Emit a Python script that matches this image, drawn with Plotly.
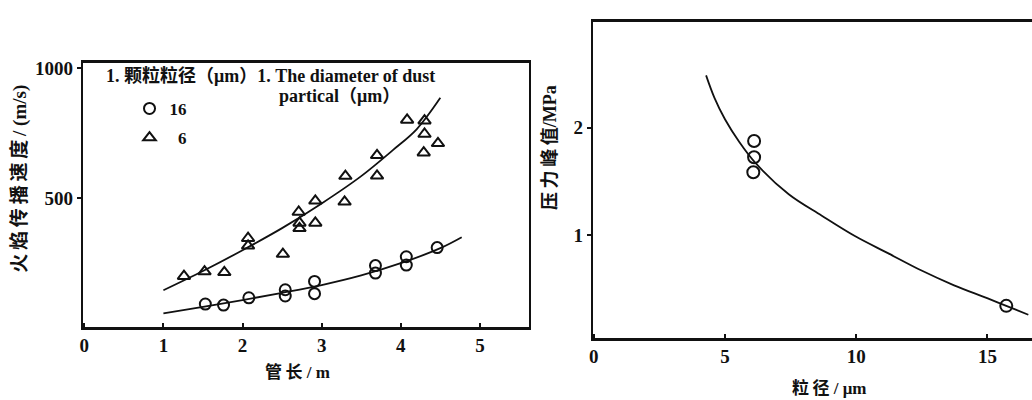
import plotly.graph_objects as go

# ---- left panel: flame propagation speed vs. tube length ----
tube_len_6 = [1.26, 1.52, 1.77, 2.07, 2.07, 2.51, 2.71, 2.72, 2.72, 2.92, 2.92,
              3.30, 3.29, 3.70, 3.70, 4.08, 4.30, 4.30, 4.29, 4.47]
speed_6 = [200, 218, 215, 346, 317, 285, 447, 405, 384, 490, 405,
           585, 486, 665, 586, 801, 798, 747, 675, 711]

tube_len_16 = [1.53, 1.76, 2.08, 2.54, 2.54, 2.91, 2.91, 3.68, 3.68, 4.07, 4.07, 4.46]
speed_16 = [93, 89, 117, 148, 124, 180, 133, 241, 212, 275, 243, 310]

fit_len_6 = [1.0, 1.5, 2.0, 2.5, 3.0, 3.5, 3.9, 4.2, 4.5]
fit_speed_6 = [146, 220, 300, 385, 480, 585, 685, 765, 886]

fit_len_16 = [1.0, 1.5, 2.0, 2.5, 3.0, 3.5, 4.0, 4.5, 4.77]
fit_speed_16 = [57, 82, 108, 136, 166, 203, 250, 308, 350]

# ---- right panel: peak pressure vs. particle size ----
size_um = [6.11, 6.11, 6.08, 15.72]
peak_mpa = [1.877, 1.726, 1.585, 0.338]

fit_size = [4.28, 4.6, 5.0, 5.54, 6.17, 7.43, 8.69, 9.95, 11.21, 12.47, 13.73, 14.99, 15.72, 16.56]
fit_peak = [2.49, 2.28, 2.08, 1.87, 1.67, 1.38, 1.18, 0.99, 0.83, 0.67, 0.53, 0.41, 0.338, 0.255]

left_xticks = [0, 1, 2, 3, 4, 5]
left_yticks = [500, 1000]
right_xticks = [0, 5, 10, 15]
right_yticks = [1, 2]

W, H = 1032, 400
SERIF = "Liberation Serif, Noto Sans CJK SC, serif"
INK = "#111111"
TS = "\u2009"  # thin space used to open up the CJK axis titles


def px(x):
    return x / W


def py(y):
    return 1 - y / H


def spaced(s):
    return TS.join(s)


fig = go.Figure()

fig.add_trace(go.Scatter(
    x=fit_len_16, y=fit_speed_16, mode="lines", line=dict(color=INK, width=1.8, shape="spline"),
    showlegend=False, xaxis="x", yaxis="y"))
fig.add_trace(go.Scatter(
    x=fit_len_6, y=fit_speed_6, mode="lines", line=dict(color=INK, width=1.8, shape="spline"),
    showlegend=False, xaxis="x", yaxis="y"))
fig.add_trace(go.Scatter(
    x=tube_len_16, y=speed_16, mode="markers", name="16", legendgroup="a",
    marker=dict(symbol="circle-open", size=11, color=INK, line=dict(width=2, color=INK)),
    xaxis="x", yaxis="y"))
fig.add_trace(go.Scatter(
    x=tube_len_6, y=speed_6, mode="markers", name="\u00a0\u00a06", legendgroup="b",
    marker=dict(symbol="triangle-up-open", size=11, color=INK, line=dict(width=2, color=INK)),
    xaxis="x", yaxis="y"))

fig.add_trace(go.Scatter(
    x=fit_size, y=fit_peak, mode="lines", line=dict(color=INK, width=1.8, shape="spline"),
    showlegend=False, xaxis="x2", yaxis="y2"))
fig.add_trace(go.Scatter(
    x=size_um, y=peak_mpa, mode="markers", showlegend=False,
    marker=dict(symbol="circle-open", size=12, color=INK, line=dict(width=2, color=INK)),
    xaxis="x2", yaxis="y2"))


def tick_font():
    return dict(family=SERIF, size=19, color=INK, weight="bold")


def axis(**kw):
    base = dict(showgrid=False, zeroline=False, showline=True, linecolor=INK,
                tickcolor=INK, tickfont=tick_font(), ticklen=4, tickwidth=1.5)
    base.update(kw)
    return base


fig.update_layout(
    width=W, height=H,
    margin=dict(l=0, r=0, t=0, b=0),
    paper_bgcolor="white", plot_bgcolor="white",
    font=dict(family=SERIF, size=17, color=INK, weight="bold"),
    xaxis=axis(domain=[px(79), px(527)], range=[-0.02, 5.62], anchor="y",
               tickvals=left_xticks, ticks="inside", mirror=True, linewidth=2.5),
    yaxis=axis(domain=[py(326), py(59)], range=[5, 1019], anchor="x",
               tickvals=left_yticks, ticks="outside", mirror=True, linewidth=2),
    xaxis2=axis(domain=[px(591), 1.0], range=[-0.04, 16.7], anchor="y2",
                tickvals=right_xticks, ticks="inside", mirror=True, linewidth=2.5),
    yaxis2=axis(domain=[py(337), py(17)], range=[0.04, 2.99], anchor="x2",
                tickvals=right_yticks, ticks="outside", mirror=False, linewidth=2),
    showlegend=True,
    legend=dict(x=px(126), y=py(87), xanchor="left", yanchor="top",
                font=dict(family=SERIF, size=17, color=INK, weight="bold"),
                bgcolor="rgba(0,0,0,0)", tracegroupgap=4, itemwidth=30),
)

annotations = [
    dict(text=spaced("火焰传播速度") + TS + "/ (m/s)", x=px(16), y=py(176), textangle=-90,
         font=dict(family=SERIF, size=19, color=INK, weight="bold")),
    dict(text=spaced("压力峰值") + "/MPa", x=px(548), y=py(144), textangle=-90,
         font=dict(family=SERIF, size=18, color=INK, weight="bold")),
    dict(text=spaced("管长") + " / m", x=px(295), y=py(372),
         font=dict(family=SERIF, size=17, color=INK, weight="bold")),
    dict(text=spaced("粒径") + " / μm", x=px(828), y=py(388),
         font=dict(family=SERIF, size=17, color=INK, weight="bold")),
    dict(text="1. 颗粒粒径（μm）1. The diameter of dust", x=px(100), y=py(71), xanchor="left",
         font=dict(family=SERIF, size=18, color=INK, weight="bold")),
    dict(text="partical（μm）", x=px(274), y=py(92), xanchor="left",
         font=dict(family=SERIF, size=18, color=INK, weight="bold")),
]
for a in annotations:
    a.setdefault("xanchor", "center")
    a.update(xref="paper", yref="paper", yanchor="middle", showarrow=False)
fig.update_layout(annotations=annotations)

fig.write_html("out.html")
